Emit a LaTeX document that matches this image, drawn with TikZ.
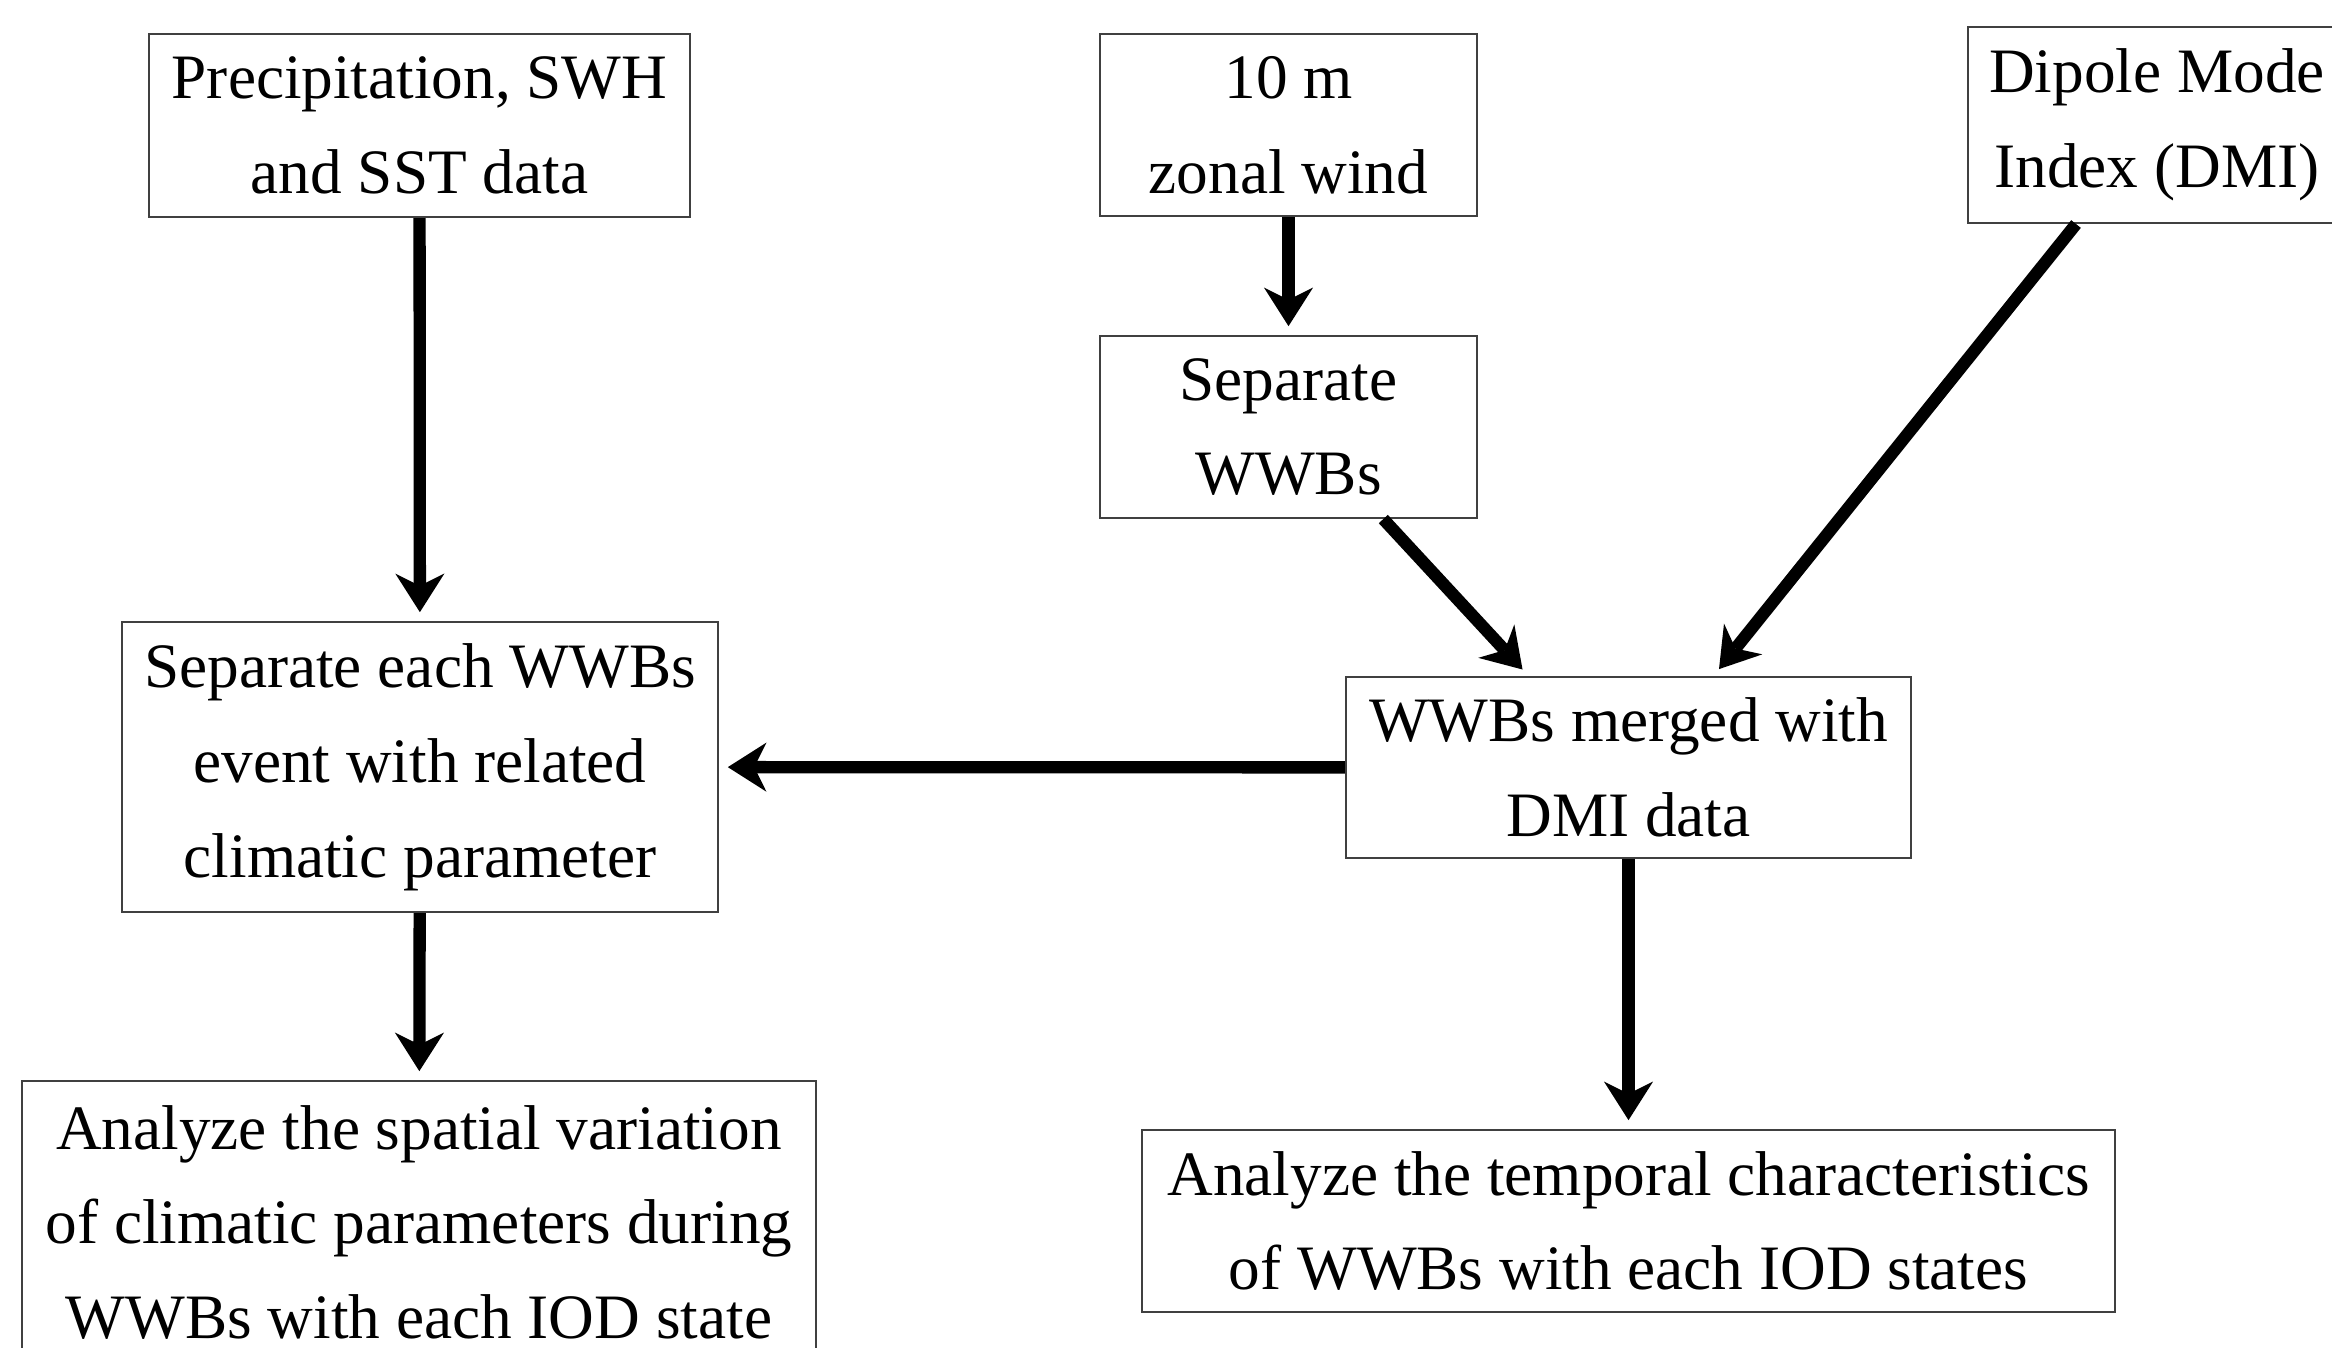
\documentclass[tikz,border=0pt]{standalone}
\usepackage{fontspec}
\setmainfont{Liberation Serif}
\usetikzlibrary{arrows.meta,calc}
\tikzset{
  box/.style={draw=black!75, line width=0.6pt, align=center, inner sep=0pt, font=\fontsize{18}{27}\selectfont},
  flow/.style={line width=3.5pt, -{Stealth[length=11pt, width=14pt, inset=3.5pt, line width=0pt]}, shorten >=2.5pt},
}
\begin{document}
\begin{tikzpicture}
  \clip (0,0) rectangle (23.32,-13.48);
  \node[box, minimum width=5.41cm, minimum height=1.83cm] (prec) at (4.195,-1.255) {Precipitation, SWH\\and SST data};
  \node[box, minimum width=3.77cm, minimum height=1.82cm] (wind) at (12.885,-1.25) {10 m\\zonal wind};
  \node[box, minimum width=3.78cm, minimum height=1.96cm] (dmi) at (21.57,-1.25) {Dipole Mode\\Index (DMI)};
  \node[box, minimum width=3.77cm, minimum height=1.82cm] (sep) at (12.885,-4.27) {Separate\\WWBs};
  \node[box, minimum width=5.96cm, minimum height=2.90cm] (sepev) at (4.20,-7.67) {Separate each WWBs\\event with related\\climatic parameter};
  \node[box, minimum width=5.65cm, minimum height=1.81cm] (merged) at (16.285,-7.675) {WWBs merged with\\DMI data};
  \node[box, minimum width=7.94cm, minimum height=2.83cm] (spatial) at (4.19,-12.225) {Analyze the spatial variation\\of climatic parameters during\\WWBs with each IOD state};
  \node[box, minimum width=9.73cm, minimum height=1.82cm] (temporal) at (16.285,-12.21) {Analyze the temporal characteristics\\of WWBs with each IOD states};
  \draw[flow] (prec) -- (sepev);
  \draw[flow] (wind) -- (sep);
  \draw[flow] ($(sep.south)!0.5!(sep.south east)$) -- ([xshift=-1cm]merged.north);
  \draw[flow] ([xshift=-0.81cm]dmi.south) -- ([xshift=0.85cm]merged.north);
  \draw[flow] (merged) -- (sepev);
  \draw[flow] (sepev) -- (spatial);
  \draw[flow] (merged) -- (temporal);
\end{tikzpicture}
\end{document}
